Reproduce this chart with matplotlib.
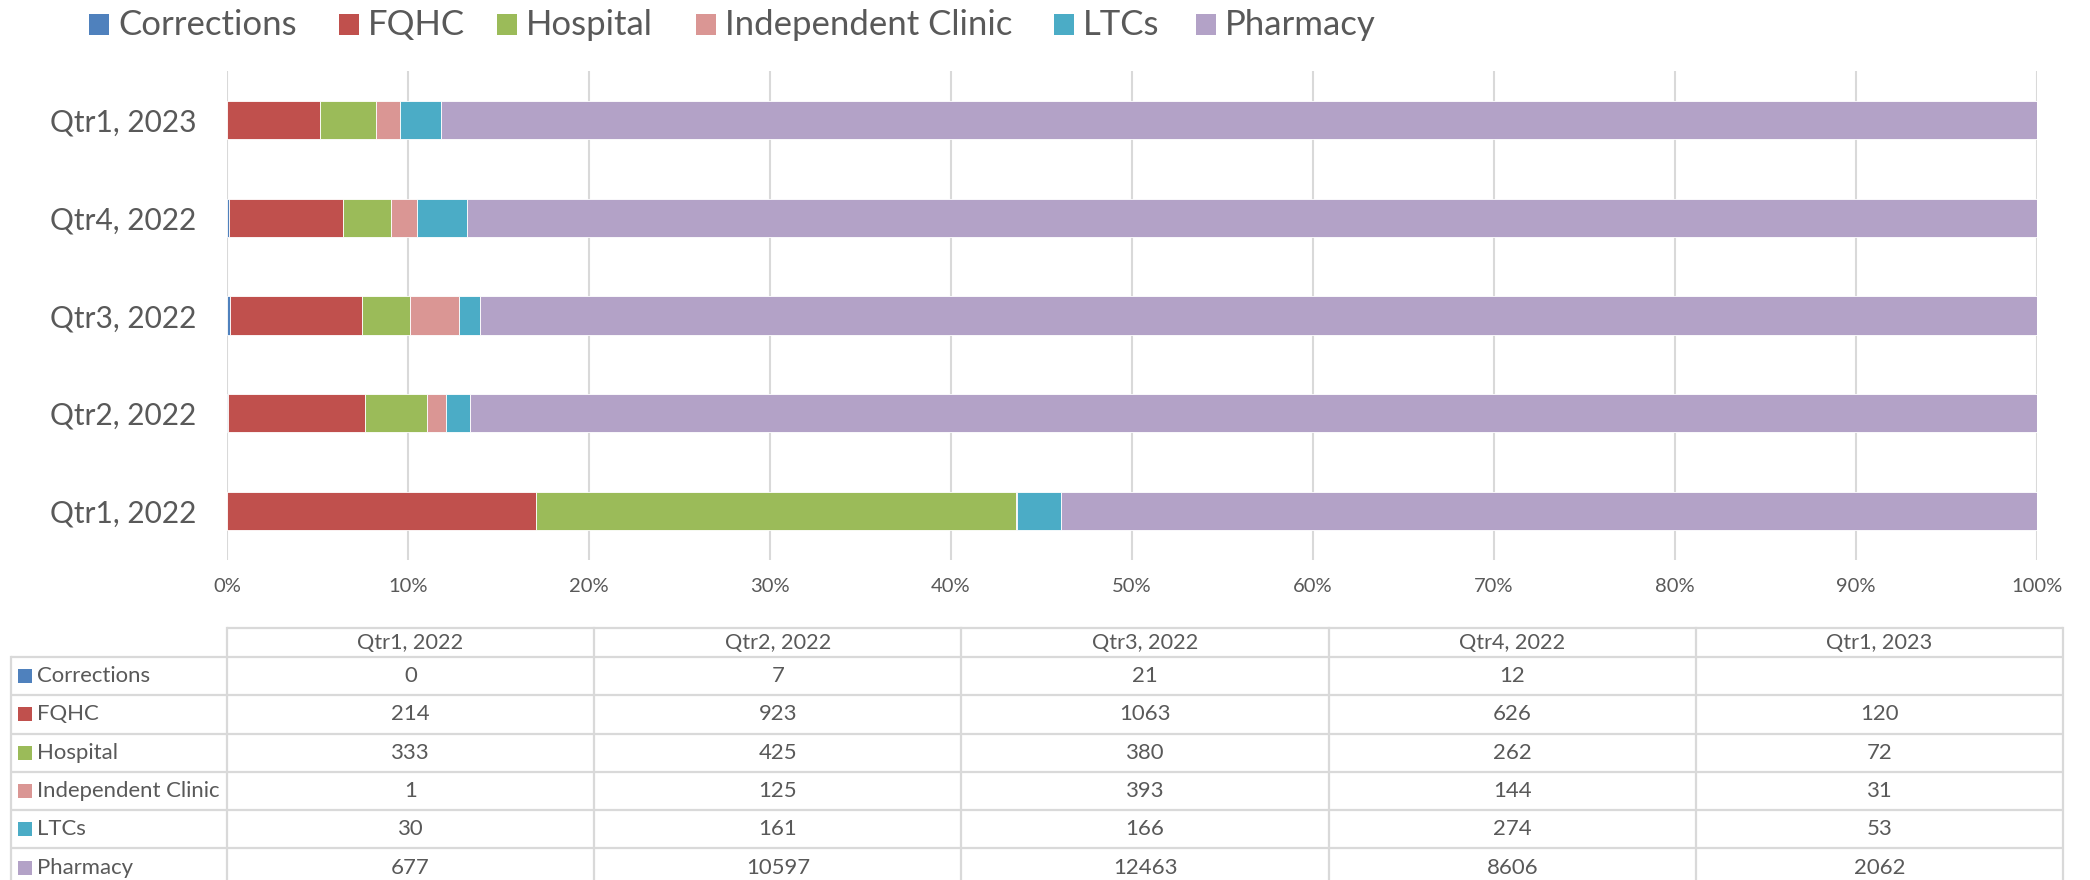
import matplotlib
matplotlib.use('Agg')
import matplotlib.pyplot as plt
from matplotlib.patches import Rectangle
import numpy as np

# ---------------- data ----------------
quarters = ['Qtr1, 2022', 'Qtr2, 2022', 'Qtr3, 2022', 'Qtr4, 2022', 'Qtr1, 2023']
series = ['Corrections', 'FQHC', 'Hospital', 'Independent Clinic', 'LTCs', 'Pharmacy']
corrections = [0, 7, 21, 12, None]
fqhc = [214, 923, 1063, 626, 120]
hospital = [333, 425, 380, 262, 72]
independent_clinic = [1, 125, 393, 144, 31]
ltcs = [30, 161, 166, 274, 53]
pharmacy = [677, 10597, 12463, 8606, 2062]
xtick_values = [0, 10, 20, 30, 40, 50, 60, 70, 80, 90, 100]
xtick_labels = ['0%', '10%', '20%', '30%', '40%', '50%', '60%', '70%', '80%', '90%', '100%']
colors = ['#4F81BD', '#C0504D', '#9BBB59', '#DA9694', '#4BACC6', '#B3A2C7']

# ---------------- style ----------------
plt.rcParams['font.family'] = ['Lato', 'DejaVu Sans']
TXT = '#595959'
GRID = '#D9D9D9'
W, H = 2090, 880

fig = plt.figure(figsize=(W / 100, H / 100), dpi=100)
fig.patch.set_facecolor('white')

ax = fig.add_axes([227 / W, 1 - 560 / H, (2037 - 227) / W, (560 - 71) / H])
all_series = [corrections, fqhc, hospital, independent_clinic, ltcs, pharmacy]
vals = np.array([[0 if v is None else v for v in s] for s in all_series], dtype=float)
totals = vals.sum(axis=0)
pct = vals / totals * 100
ypos = np.arange(len(quarters))
left = np.zeros(len(quarters))
for name, p, c in zip(series, pct, colors):
    ax.barh(ypos, p, left=left, height=0.39, color=c, edgecolor='white',
            linewidth=0.6, zorder=3, label=name)
    left += p

ax.set_xlim(0, 100)
ax.set_ylim(-0.5, len(quarters) - 0.5)
ax.set_xticks(xtick_values)
ax.set_xticklabels(xtick_labels, fontsize=14.5, color=TXT)
ax.set_yticks(ypos)
ax.set_yticklabels(quarters, fontsize=21.5, color=TXT)
ax.tick_params(axis='both', length=0)
ax.tick_params(axis='x', pad=13)
ax.tick_params(axis='y', pad=22)
ax.grid(axis='x', color=GRID, linewidth=1.5, zorder=0)
ax.set_axisbelow(True)
for sp in ax.spines.values():
    sp.set_visible(False)

# ---------------- overlay (legend + data table) ----------------
ov = fig.add_axes([0, 0, 1, 1], zorder=5)
ov.set_xlim(0, W)
ov.set_ylim(H, 0)
ov.axis('off')

# legend (manual placement to mimic Excel layout)
legend_x = [89, 339, 497, 696, 1054, 1196]
for lx, name, c in zip(legend_x, series, colors):
    ov.add_patch(Rectangle((lx, 14), 20, 21, facecolor=c, edgecolor='none'))
    ov.text(lx + 29, 25, name, ha='left', va='center', fontsize=25, color=TXT)

col_left = 227
col_w = 367.2
ncol = len(quarters)
tbl_right = col_left + col_w * ncol
hdr_top, hdr_bot = 628, 657
row_h = 38.3
lab_left = 11
lw = 1.6

ov.plot([col_left, tbl_right], [hdr_top, hdr_top], color=GRID, lw=lw, solid_capstyle='butt')
for k in range(len(series) + 1):
    yy = hdr_bot + row_h * k
    ov.plot([lab_left, tbl_right], [yy, yy], color=GRID, lw=lw, solid_capstyle='butt')
ov.plot([lab_left, lab_left], [hdr_bot, H + 20], color=GRID, lw=lw)
for j in range(ncol + 1):
    xx = col_left + col_w * j
    ov.plot([xx, xx], [hdr_top, H + 20], color=GRID, lw=lw)

for j, q in enumerate(quarters):
    ov.text(col_left + col_w * (j + 0.5), (hdr_top + hdr_bot) / 2, q, ha='center',
            va='center', fontsize=15.6, color=TXT)

for i, (name, s, c) in enumerate(zip(series, all_series, colors)):
    yc = hdr_bot + row_h * (i + 0.5)
    ov.add_patch(Rectangle((18, yc - 7), 14, 14, facecolor=c, edgecolor='none'))
    ov.text(37, yc, name, ha='left', va='center', fontsize=15.9, color=TXT)
    for j, v in enumerate(s):
        ov.text(col_left + col_w * (j + 0.5), yc, '' if v is None else str(v),
                ha='center', va='center', fontsize=15.9, color=TXT)

fig.savefig('out.png', dpi=100, facecolor='white')
